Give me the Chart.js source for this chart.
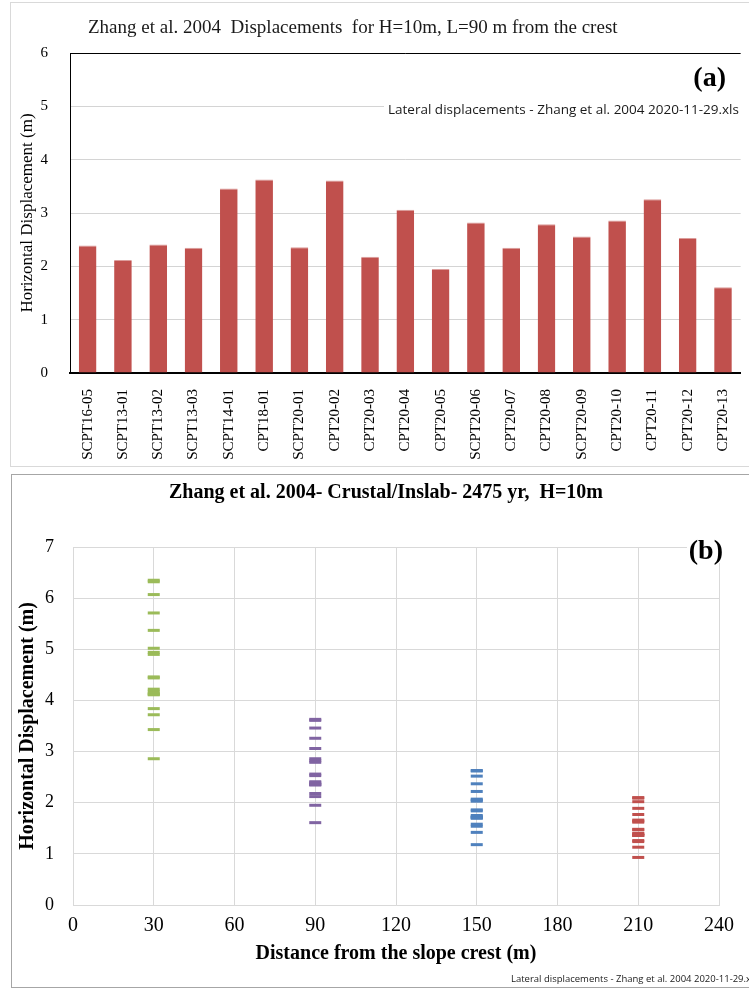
<!DOCTYPE html>
<html>
<head>
<meta charset="utf-8">
<script src="https://cdn.jsdelivr.net/npm/chart.js@4"></script>
<style>
  html, body { margin: 0; padding: 0; background: #fff; }
  body { width: 749px; height: 991px; position: relative; overflow: hidden; }
  .frame { position: absolute; box-sizing: border-box; }
  #frameA { left: 10px; top: 2px; width: 760px; height: 465px; border: 1px solid #d9d9d9; }
  #frameB { left: 11px; top: 474px; width: 760px; height: 514px; border: 1px solid #a6a6a6; }
  canvas { position: absolute; left: 0; }
  #chartA { top: 0; }
  #chartB { top: 470px; }
</style>
</head>
<body>
<div class="frame" id="frameA"></div>
<div class="frame" id="frameB"></div>
<canvas id="chartA" width="749" height="470"></canvas>
<canvas id="chartB" width="749" height="521"></canvas>
<script>
  // (a) displacements at L = 90 m for each CPT
  const cptNames = [
    'SCPT16-05', 'SCPT13-01', 'SCPT13-02', 'SCPT13-03', 'SCPT14-01',
    'CPT18-01', 'SCPT20-01', 'CPT20-02', 'CPT20-03', 'CPT20-04',
    'CPT20-05', 'SCPT20-06', 'CPT20-07', 'CPT20-08', 'SCPT20-09',
    'CPT20-10', 'CPT20-11', 'CPT20-12', 'CPT20-13'
  ];
  const disp90 = [2.39, 2.12, 2.41, 2.35, 3.46, 3.63, 2.36, 3.61, 2.18, 3.06,
                  1.95, 2.82, 2.35, 2.79, 2.56, 2.86, 3.26, 2.53, 1.61];

  // (b) displacements against distance from the crest
  const distances = [30, 90, 150, 210];
  const disp30 = [4.18, 3.72, 4.22, 4.12, 6.07, 6.35, 4.14, 6.32, 3.84, 5.37,
                  3.43, 4.94, 4.11, 4.90, 4.46, 5.02, 5.71, 4.44, 2.86];
  const disp150 = [1.73, 1.54, 1.75, 1.70, 2.52, 2.63, 1.71, 2.62, 1.58, 2.22,
                   1.42, 2.05, 1.70, 2.03, 1.86, 2.07, 2.37, 1.84, 1.18];
  const disp210 = [1.39, 1.24, 1.40, 1.36, 2.02, 2.10, 1.37, 2.09, 1.26, 1.77,
                   1.13, 1.64, 1.36, 1.62, 1.48, 1.66, 1.89, 1.47, 0.93];
  const seriesColors = ['#9BBB59', '#8064A2', '#4F81BD', '#C0504D'];

  const serif = '"Liberation Serif", "Times New Roman", serif';
  const fileNote = 'Lateral displacements - Zhang et al. 2004 2020-11-29.xls';

  Chart.defaults.font.family = serif;
  Chart.defaults.color = '#1a1a1a';

  // draws the free texts of each panel
  function notesPlugin(texts) {
    return {
      id: 'notes',
      afterDraw(chart) {
        const ctx = chart.ctx;
        ctx.save();
        texts.forEach(t => {
          ctx.font = t.font;
          ctx.textAlign = t.align || 'left';
          ctx.textBaseline = 'middle';
          if (t.bg) {
            ctx.fillStyle = '#fff';
            ctx.fillRect(t.bg[0], t.bg[1], t.bg[2], t.bg[3]);
          }
          ctx.fillStyle = t.color || '#1a1a1a';
          ctx.fillText(t.text, t.x, t.y);
        });
        ctx.restore();
      }
    };
  }

  new Chart(document.getElementById('chartA'), {
    type: 'bar',
    data: {
      labels: cptNames,
      datasets: [{
        data: disp90,
        backgroundColor: '#C0504D',
        borderColor: '#dc9d9b',
        borderWidth: {top: 1, left: 0, right: 0, bottom: 0},
        borderSkipped: 'bottom',
        barPercentage: 0.5,
        categoryPercentage: 1.0
      }]
    },
    options: {
      responsive: false,
      animation: false,
      layout: {padding: {top: 53, left: 0, right: 0, bottom: 0}},
      plugins: {legend: {display: false}, tooltip: {enabled: false}},
      scales: {
        x: {
          afterFit: s => { s.height = 97; },
          grid: {display: false},
          border: {display: true, color: '#000', width: 2},
          ticks: {
            autoSkip: false, minRotation: 90, maxRotation: 90, padding: 8,
            color: '#000', font: {size: 15}
          }
        },
        y: {
          min: 0, max: 6,
          afterFit: s => { s.width = 70; },
          grid: {
            drawTicks: false,
            color: c => c.tick && c.tick.value === 6 ? '#000' : '#d4d4d4'
          },
          border: {color: '#000', width: 1},
          ticks: {stepSize: 1, padding: 22, color: '#000', font: {size: 15}},
          title: {
            display: true, text: 'Horizontal Displacement (m)',
            color: '#000', font: {size: 17}, padding: {top: 17}
          }
        }
      }
    },
    plugins: [notesPlugin([
      {text: 'Zhang et al. 2004  Displacements  for H=10m, L=90 m from the crest',
       x: 88, y: 28, font: '19px ' + serif},
      {text: '(a)', x: 726, y: 79, align: 'right', font: 'bold 28px ' + serif, color: '#000'},
      {text: fileNote, x: 388, y: 110, font: '13.5px "Open Sans"',
       bg: [384, 100, 365, 20]}
    ])]
  });

  const pointSets = [disp30, disp90, disp150, disp210].map((vals, i) => ({
    data: vals.map(v => ({x: distances[i], y: v})),
    pointStyle: 'line',
    pointRadius: 6,
    pointHoverRadius: 6,
    pointBorderWidth: 3,
    borderColor: seriesColors[i],
    backgroundColor: seriesColors[i],
    showLine: false
  }));

  new Chart(document.getElementById('chartB'), {
    type: 'scatter',
    data: {datasets: pointSets},
    options: {
      responsive: false,
      animation: false,
      layout: {padding: {top: 77, left: 0, right: 30, bottom: 0}},
      plugins: {legend: {display: false}, tooltip: {enabled: false}},
      scales: {
        x: {
          type: 'linear', min: 0, max: 240,
          afterFit: s => { s.height = 86; },
          grid: {color: '#d9d9d9', drawTicks: false},
          border: {color: '#d9d9d9'},
          ticks: {stepSize: 30, padding: 9, color: '#000', font: {size: 20}},
          title: {
            display: true, text: 'Distance from the slope crest (m)',
            color: '#000', font: {size: 20, weight: 'bold'}, padding: {bottom: 25}
          }
        },
        y: {
          min: 0, max: 7,
          afterFit: s => { s.width = 73; },
          grid: {color: '#d9d9d9', drawTicks: false},
          border: {color: '#d9d9d9'},
          ticks: {stepSize: 1, padding: 19, color: '#000', font: {size: 18}},
          title: {
            display: true, text: 'Horizontal Displacement (m)',
            color: '#000', font: {size: 20, weight: 'bold'}, padding: {top: 16}
          }
        }
      }
    },
    plugins: [notesPlugin([
      {text: 'Zhang et al. 2004- Crustal/Inslab- 2475 yr,  H=10m',
       x: 386, y: 23, align: 'center', font: 'bold 20px ' + serif, color: '#000'},
      {text: '(b)', x: 723, y: 82, align: 'right', font: 'bold 28px ' + serif, color: '#000',
       bg: [687, 60, 62, 33]},
      {text: fileNote, x: 511, y: 509, font: '9.5px "Open Sans"'}
    ])]
  });
</script>
</body>
</html>
